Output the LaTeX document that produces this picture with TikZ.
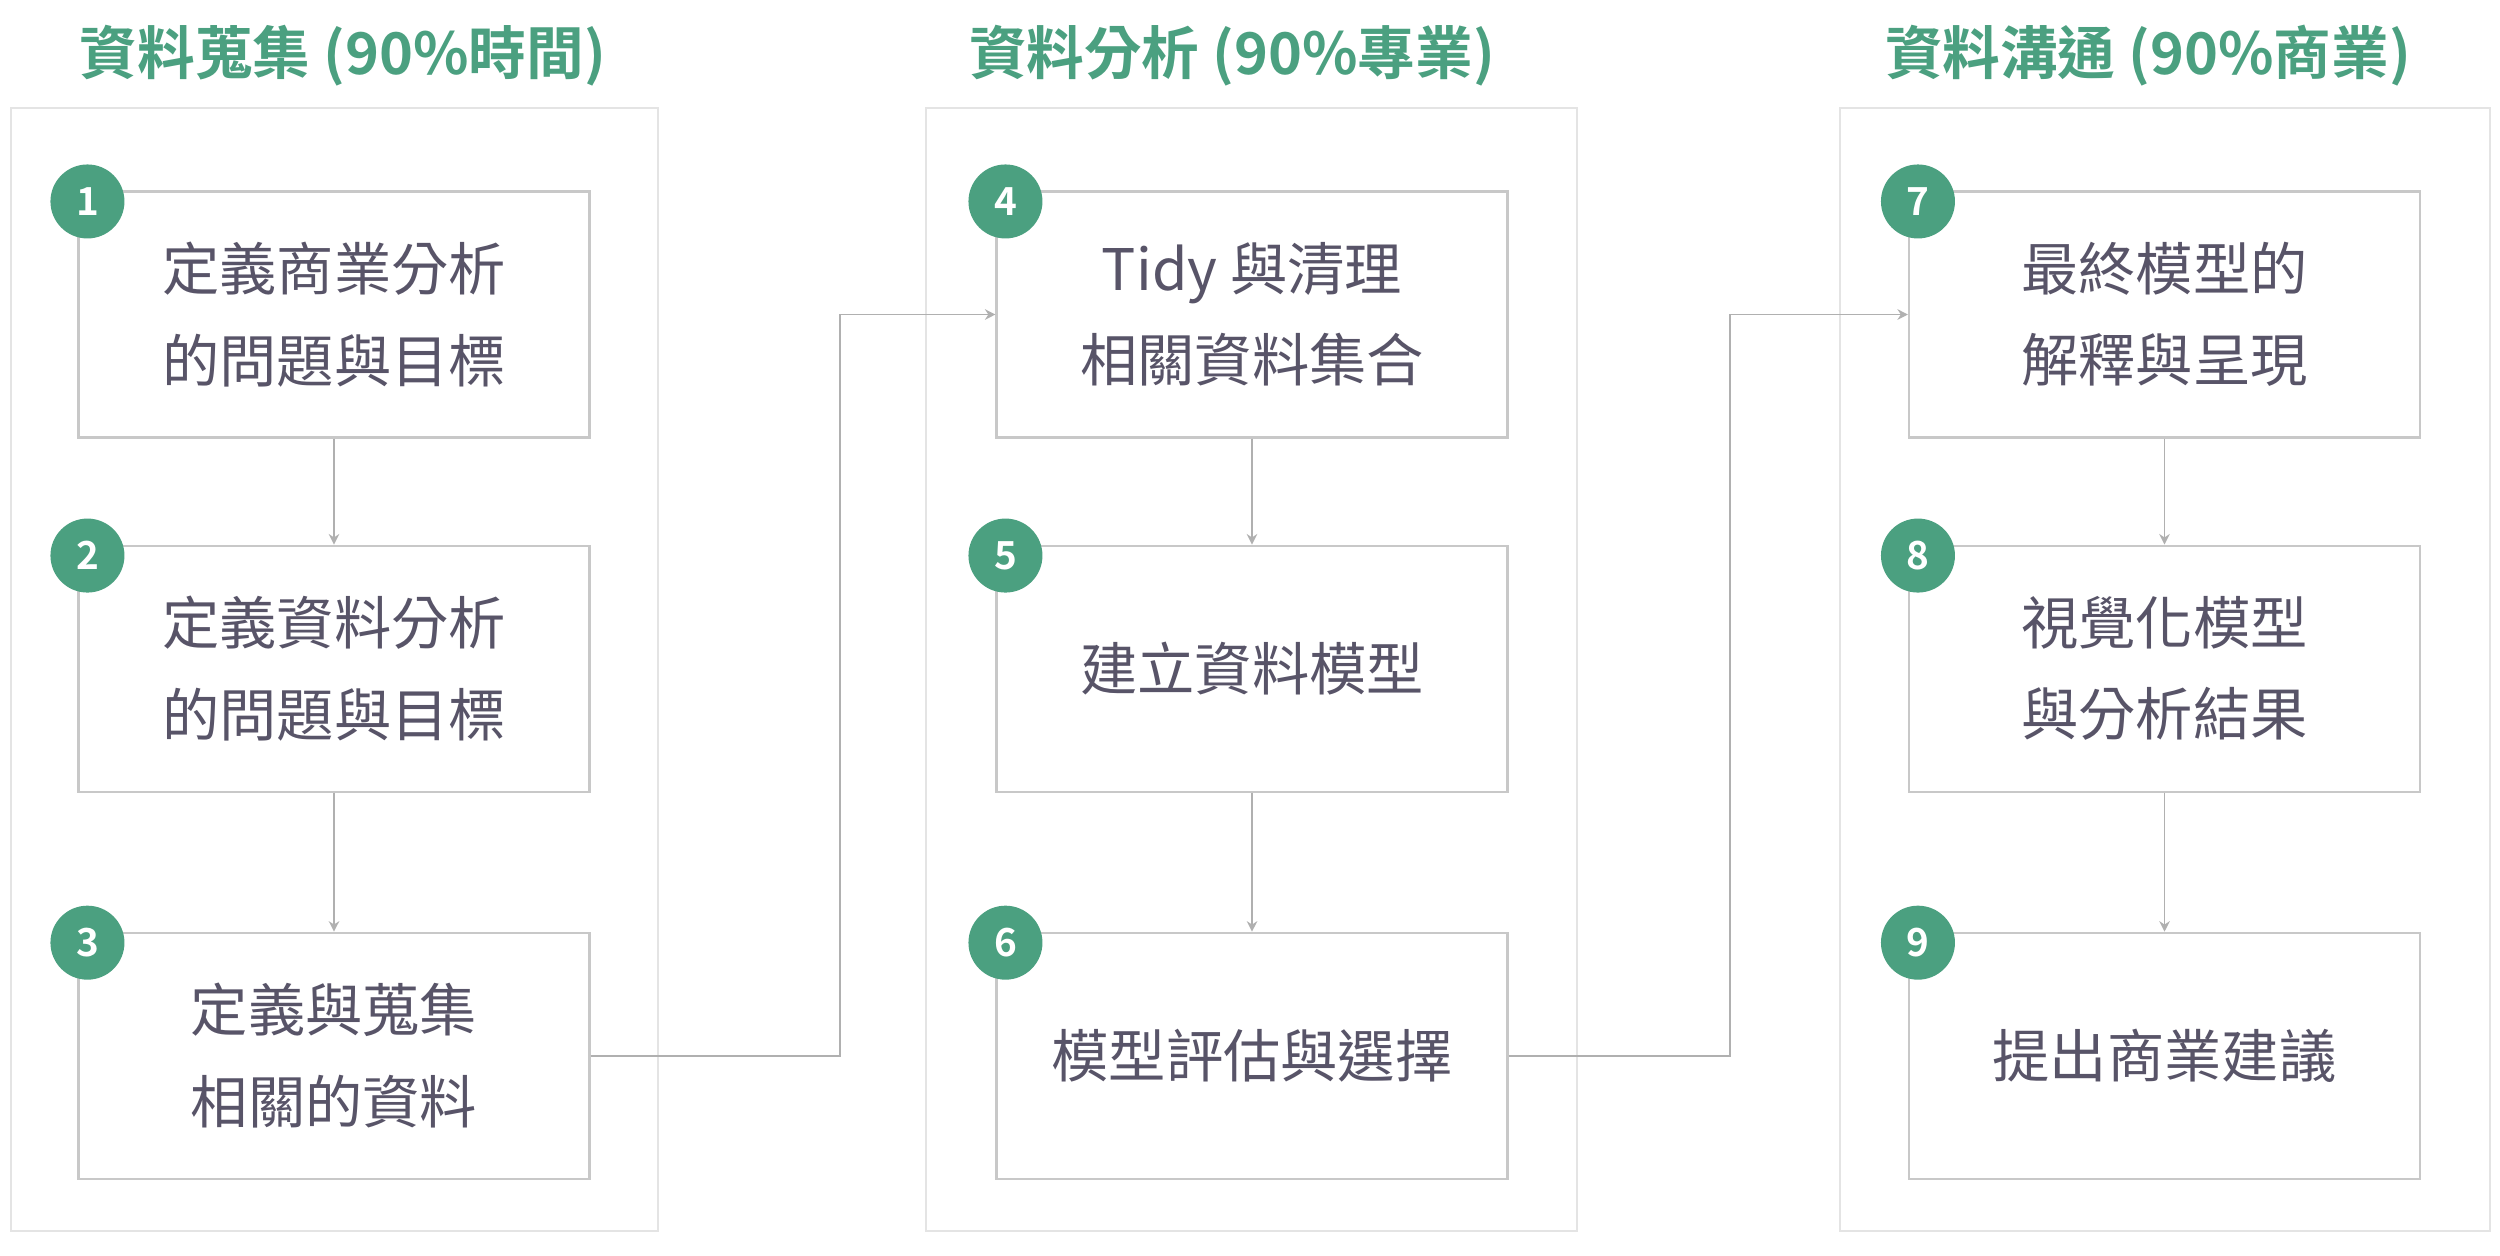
\documentclass[tikz,border=0pt]{standalone}
\usepackage{fontspec}
\setmainfont{Noto Sans CJK TC}[BoldFont={Noto Sans CJK TC Bold}]
\usepackage{xcolor}
\definecolor{stage}{RGB}{75,160,128}
\definecolor{textgray}{RGB}{88,84,104}
\definecolor{boxline}{RGB}{200,200,200}
\definecolor{panelline}{RGB}{228,228,228}
\definecolor{flowline}{RGB}{176,176,176}
\usetikzlibrary{positioning}
\usetikzlibrary{calc}
\usetikzlibrary{arrows.meta}
\tikzset{
	stepbox/.style={draw=boxline, fill=white, line width=0.6pt, minimum width=5.11cm, minimum height=2.46cm, inner sep=0pt, align=center, text=textgray, font=\fontsize{16.3}{26}\selectfont},
	badge/.style={circle, fill=stage, minimum size=0.74cm, inner sep=0pt, text=white, font=\fontsize{11}{12}\bfseries\selectfont},
	stagetitle/.style={text=stage, font=\fontsize{16.4}{20}\bfseries\selectfont},
	flow/.style={draw=flowline, line width=0.45pt, -{Stealth[length=3pt,width=3pt]}}
}

\begin{document}
\begin{tikzpicture}
	\useasboundingbox (0,0) rectangle (25,-12.55);
	
	% Panels
	\filldraw[fill=white, draw=panelline, line width=0.6pt] (0.11,-1.08) rectangle (6.58,-12.31);
	\filldraw[fill=white, draw=panelline, line width=0.6pt] (9.26,-1.08) rectangle (15.77,-12.31);
	\filldraw[fill=white, draw=panelline, line width=0.6pt] (18.40,-1.08) rectangle (24.90,-12.31);
	
	% Titles
	\node[stagetitle] (t1) at (3.43,-0.56) {資料蒐集 (90\%時間)};
	\node[stagetitle] (t2) at (12.32,-0.56) {資料分析 (90\%專業)};
	\node[stagetitle] (t3) at (21.48,-0.56) {資料溝通 (90\%商業)};
	
	% left column
	\node[stepbox] (s1) at (3.34,-3.145) {定義商業分析\\的問題與目標};
	\node[stepbox, below=1.06cm of s1] (s2) {定義資料分析\\的問題與目標};
	\node[stepbox, below=1.39cm of s2] (s3) {定義與蒐集\\相關的資料};
	
	% middle column
	\node[stepbox] (s4) at (12.52,-3.145) {Tidy 與清理\\相關資料集合};
	\node[stepbox, below=1.06cm of s4] (s5) {建立資料模型};
	\node[stepbox, below=1.39cm of s5] (s6) {模型評估與選擇};
	
	% right column
	\node[stepbox] (s7) at (21.645,-3.145) {最終模型的\\解釋與呈現};
	\node[stepbox, below=1.06cm of s7] (s8) {視覺化模型\\與分析結果};
	\node[stepbox, below=1.39cm of s8] (s9) {提出商業建議};
	
	% Badges
	\foreach \i in {1,...,9}
		\node[badge] (b\i) at ($(s\i.north west)+(0.1,-0.11)$) {\i};
	
	% Connectors
	\coordinate (e1) at (8.40,0);
	\coordinate (e2) at (17.30,0);
	\draw[flow] (s1) -- (s2);
	\draw[flow] (s2) -- (s3);
	\draw[flow] (s3.east) -- (s3.east -| e1) |- (s4.west);
	\draw[flow] (s4) -- (s5);
	\draw[flow] (s5) -- (s6);
	\draw[flow] (s6.east) -- (s6.east -| e2) |- (s7.west);
	\draw[flow] (s7) -- (s8);
	\draw[flow] (s8) -- (s9);
\end{tikzpicture}
\end{document}
